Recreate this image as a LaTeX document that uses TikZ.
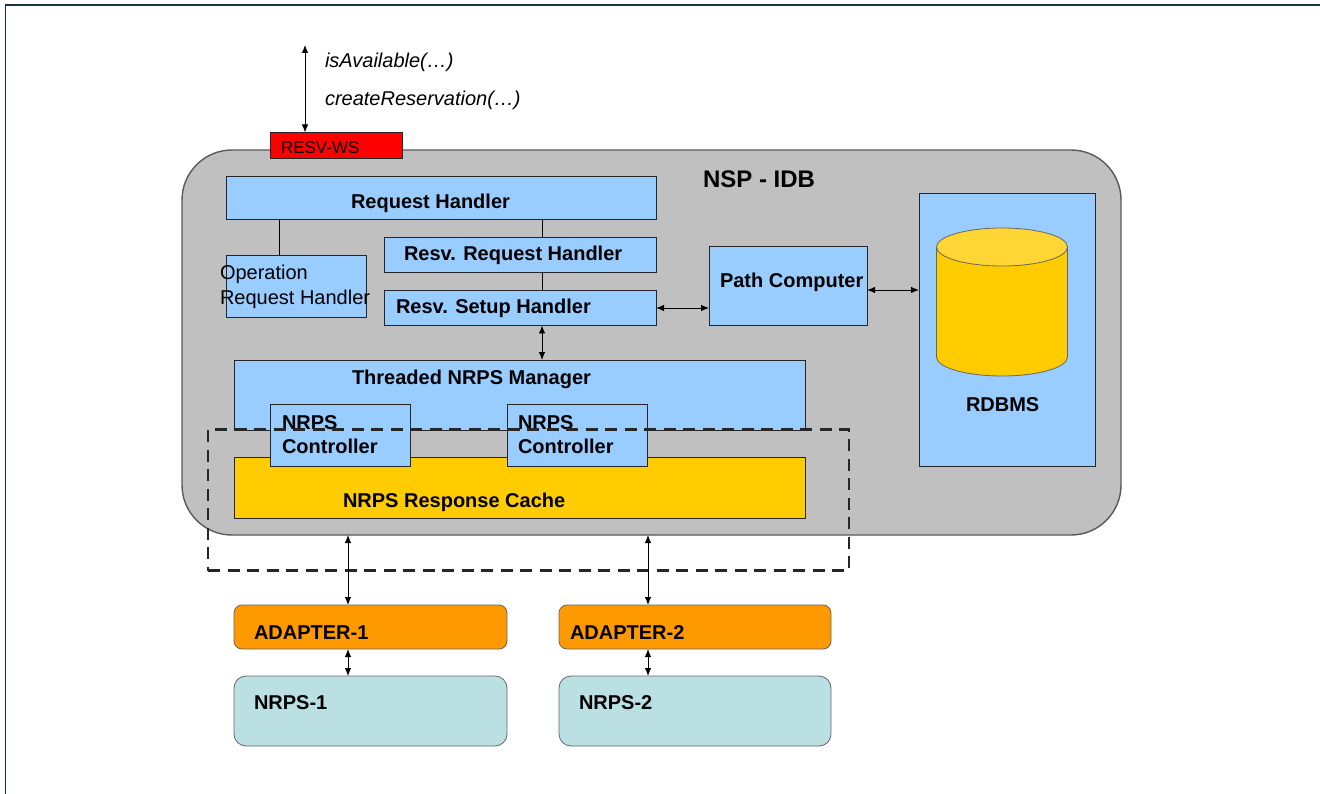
\documentclass[tikz,border=0pt]{standalone}
\usepackage{fontspec}
\setmainfont{Liberation Sans}
\usetikzlibrary{arrows.meta}
\definecolor{framec}{RGB}{20,55,65}
\definecolor{nspgray}{RGB}{192,192,192}
\definecolor{nspborder}{RGB}{90,90,90}
\definecolor{lblue}{RGB}{153,204,255}
\definecolor{resvred}{RGB}{255,0,0}
\definecolor{cacheyel}{RGB}{255,204,0}
\definecolor{cyltop}{RGB}{255,214,51}
\definecolor{adorange}{RGB}{255,153,0}
\definecolor{nrpsteal}{RGB}{187,224,227}
\begin{document}
\begin{tikzpicture}[x=1pt,y=-1pt,
  every node/.style={font=\fontsize{20}{24}\selectfont, inner sep=0pt, outer sep=0pt},
  boxshape/.style={draw=black!85, line width=0.8pt, anchor=north west},
  bluebox/.style={boxshape, fill=lblue},
  txt/.style={anchor=base west, font=\fontsize{20}{24}\selectfont\bfseries},
  txtreg/.style={anchor=base west, font=\fontsize{20}{24}\selectfont},
  conn/.style={line width=0.9pt, black},
  biarrow/.style={conn, {Latex[length=8pt,width=6.5pt]}-{Latex[length=8pt,width=6.5pt]}},
  dashbox/.style={draw=black!85, line width=2.4pt, dash pattern=on 12pt off 7.5pt, anchor=north west}
]
\useasboundingbox (0,0) rectangle (1320,794);
\fill[white] (0,0) rectangle (1320,794);
% frame lines
\coordinate (fTL) at (5.5,5);
\coordinate (fTR) at (1320,5);
\coordinate (fBL) at (5.5,794);
\draw[framec, line width=1.4pt] (fBL) -- (fTL) -- (fTR);

% main NSP-IDB container
\node[draw=nspborder, line width=1.4pt, fill=nspgray, rounded corners=50pt,
      minimum width=939pt, minimum height=385pt, anchor=north west] (nsp) at (182,150) {};
\node[anchor=base west, font=\fontsize{24}{28}\selectfont\bfseries] (nsptxt) at (703,188) {NSP - IDB};

% RESV-WS
\node[boxshape, fill=resvred, minimum width=132pt, minimum height=26pt] (resv) at (270,132.5) {};
\node[anchor=base west, font=\fontsize{17}{20}\selectfont] (resvtxt) at (281,154) {RESV-WS};
\coordinate (apitop) at (305,45);
\draw[biarrow] (apitop) -- (apitop |- resv.north);
\node[anchor=base west, font=\fontsize{20}{24}\selectfont\itshape] (isavail) at (325,68) {isAvailable(…)};
\node[anchor=base west, font=\fontsize{20}{24}\selectfont\itshape] (createres) at (325,106) {createReservation(…)};

% handlers
\node[bluebox, minimum width=430pt, minimum height=43pt] (rh) at (226,176.5) {};
\node[txt] (rhtxt) at (351,209) {Request Handler};
\node[bluebox, minimum width=140.5pt, minimum height=62pt] (orh) at (226,255) {};
\node[txtreg] (orhtxt1) at (220,280) {Operation};
\node[txtreg] (orhtxt2) at (220,304.5) {Request Handler};
\node[bluebox, minimum width=272pt, minimum height=35pt] (rrh) at (384,237.5) {};
\node[txt] (rrhtxt) at (404,261) {Resv. Request Handler};
\node[bluebox, minimum width=272pt, minimum height=35pt] (rsh) at (384,290.5) {};
\node[txt] (rshtxt) at (396,314) {Resv. Setup Handler};
\node[bluebox, minimum width=158pt, minimum height=79pt] (pc) at (709,246) {};
\node[txt] (pctxt) at (720,288) {Path Computer};

% RDBMS
\node[bluebox, minimum width=176pt, minimum height=273pt] (rdbms) at (919,193) {};
\node[txt] (rdbmstxt) at (966,411) {RDBMS};
\coordinate (cylc) at (1002,247);
\fill[cacheyel, draw=black!60, line width=0.8pt]
  (936.5,247) -- (936.5,357) arc[start angle=180, end angle=0, x radius=65.5, y radius=19] -- (1067.5,247) -- cycle;
\fill[cyltop, draw=black!60, line width=0.8pt] (cylc) ellipse [x radius=65.5, y radius=19];

% connectors among handlers
\coordinate (lx1) at (279,0);
\coordinate (lx2) at (542,0);
\draw[conn] (rh.south -| lx1) -- (orh.north -| lx1);
\draw[conn] (rh.south -| lx2) -- (rrh.north -| lx2);
\draw[conn] (rrh.south -| lx2) -- (rsh.north -| lx2);
\coordinate (ay1) at (0,308);
\coordinate (ay2) at (0,290);
\draw[biarrow] (rsh.east |- ay1) -- (pc.west |- ay1);
\draw[biarrow] (pc.east |- ay2) -- (rdbms.west |- ay2);

% NRPS manager
\node[bluebox, minimum width=571pt, minimum height=70pt] (tnm) at (234,360) {};
\node[txt] (tnmtxt) at (352,384) {Threaded NRPS Manager};
\draw[biarrow] (rsh.south -| lx2) -- (tnm.north -| lx2);
\node[boxshape, fill=cacheyel, minimum width=571pt, minimum height=61pt] (cache) at (234,457) {};
\node[txt] (cachetxt) at (343,507) {NRPS Response Cache};
\node[bluebox, minimum width=140.5pt, minimum height=62pt] (ctrl1) at (270,404) {};
\node[txt] (c1a) at (282,429) {NRPS};
\node[txt] (c1b) at (282,453) {Controller};
\node[bluebox, minimum width=140.5pt, minimum height=62pt] (ctrl2) at (507,404) {};
\node[txt] (c2a) at (518,429) {NRPS};
\node[txt] (c2b) at (518,453) {Controller};

% dashed group
\node[dashbox, minimum width=641pt, minimum height=141pt] (dgroup) at (208,429.5) {};

% adapters and NRPS
\node[boxshape, draw=black!60, fill=adorange, rounded corners=8pt, minimum width=273pt, minimum height=44pt] (ad1) at (234,605) {};
\node[txt] (ad1txt) at (254,639) {ADAPTER-1};
\node[boxshape, draw=black!60, fill=adorange, rounded corners=8pt, minimum width=272pt, minimum height=44pt] (ad2) at (559,605) {};
\node[txt] (ad2txt) at (570,639) {ADAPTER-2};
\node[boxshape, draw=black!60, fill=nrpsteal, rounded corners=12pt, minimum width=273pt, minimum height=70pt] (n1) at (234,676) {};
\node[txt] (n1txt) at (254,709) {NRPS-1};
\node[boxshape, draw=black!60, fill=nrpsteal, rounded corners=12pt, minimum width=272pt, minimum height=70pt] (n2) at (559,676) {};
\node[txt] (n2txt) at (579,709) {NRPS-2};

\coordinate (vx1) at (348,0);
\coordinate (vx2) at (648,0);
\draw[biarrow] (nsp.south -| vx1) -- (ad1.north -| vx1);
\draw[biarrow] (nsp.south -| vx2) -- (ad2.north -| vx2);
\draw[biarrow] (ad1.south -| vx1) -- (n1.north -| vx1);
\draw[biarrow] (ad2.south -| vx2) -- (n2.north -| vx2);
\end{tikzpicture}
\end{document}
